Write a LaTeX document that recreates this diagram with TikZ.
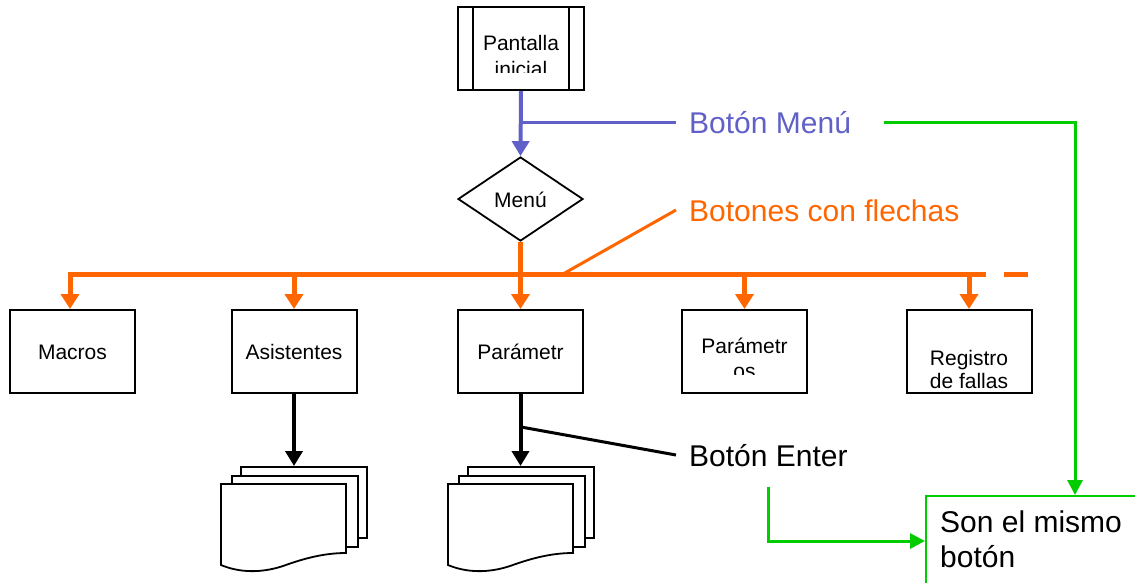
\documentclass[tikz,border=0pt]{standalone}
\usepackage{fontspec}
\setmainfont{Liberation Sans}
\usetikzlibrary{arrows.meta,shapes.geometric}
\definecolor{cblue}{RGB}{96,96,200}
\definecolor{corange}{RGB}{255,102,0}
\definecolor{cgreen}{RGB}{0,204,0}
\begin{document}
\begin{tikzpicture}[x=1pt,y=-1pt,
  box/.style={draw,line width=2pt,minimum width=125pt,minimum height=83pt,inner sep=0pt,fill=white},
  sheet/.style={draw,line width=1.8pt,minimum width=126pt,minimum height=71pt,inner sep=0pt,fill=white,anchor=north west},
  small/.style={font=\fontsize{21}{25}\selectfont,inner sep=0pt,anchor=base},
  big/.style={font=\fontsize{30}{36}\selectfont,inner sep=0pt,anchor=base west},
  oline/.style={corange,line width=5pt},
  oarr/.style={corange,line width=5pt,-{Triangle[width=18pt,length=15pt]}},
  barr/.style={cblue,line width=4pt,-{Triangle[width=17pt,length=15pt]}},
  karr/.style={black,line width=4pt,-{Triangle[width=17pt,length=15pt]}},
  garr/.style={cgreen,line width=3pt,-{Triangle[width=15pt,length=15pt]}},
]
\useasboundingbox (0,0) rectangle (1135,582);
\clip (0,0) rectangle (1135,582);

% top box
\node[box,minimum width=126pt] (pant) at (521,48.5) {};
\draw[line width=2pt] ([xshift=16pt]pant.north west) -- ([xshift=16pt]pant.south west);
\draw[line width=2pt] ([xshift=-16pt]pant.north east) -- ([xshift=-16pt]pant.south east);
\node[small] (pant1) at (521,50) {Pantalla};
\begin{scope}
  \clip (480,55) rectangle (560,72);
  \node[small] (pant2) at (521,76) {inicial};
\end{scope}

% diamond
\node[diamond,draw,line width=1.8pt,minimum width=125pt,minimum height=84pt,inner sep=0pt,fill=white] (menu) at (520.5,199) {};
\node[small] (menut) at (520.5,207) {Menú};

% boxes
\node[box] (macros) at (72.5,351.5) {};
\node[small] at (macros.center) [yshift=-7.5pt] (t1) {Macros};
\node[box] (asist) at (294,351.5) {};
\node[small] at (asist.center) [yshift=-7.5pt] (t2) {Asistentes};
\node[box] (param) at (520.5,351.5) {};
\node[small] at (param.center) [yshift=-7.5pt] (t3) {Parámetr};
\node[box] (param2) at (744.5,351.5) {};
\node[small] (t4) at (744.5,353) {Parámetr};
\begin{scope}
  \clip (700,360) rectangle (790,374);
  \node[small] (t5) at (744.5,378) {os};
\end{scope}
\node[box] (reg) at (969,351.5) {};
\node[small] (t6) at (969,365) {Registro};
\node[small] (t7) at (969,388) {de fallas};

% blue
\draw[barr] (pant.south) -- (menu.north);
\coordinate (b1) at (520.5,122);
\coordinate (b2) at (676,122);
\draw[cblue,line width=3pt] (b1) -- (b2);
\node[big,text=cblue] (bmenu) at (689,133) {Botón Menú};

% orange
\draw[oarr] (menu.south) -- (param.north);
\coordinate (bl) at (70,274);
\coordinate (br) at (986,274);
\draw[oline] ([xshift=-2.5pt]bl) -- (br);
\draw[oline] (1004,274) -- (1028,274);
\draw[oarr] (bl) -- (macros.north -| bl);
\draw[oarr] (294,274) -- (asist.north);
\draw[oarr] (744.5,274) -- (param2.north);
\draw[oarr] (969,274) -- (reg.north);
\coordinate (o1) at (563,274);
\coordinate (o2) at (676,210);
\draw[corange,line width=3pt] (o1) -- (o2);
\node[big,text=corange] (bflechas) at (689,221) {Botones con flechas};

% stacks
\node[sheet] (s1c) at (240,466) {};
\node[sheet] (s1b) at (231,475) {};
\draw[line width=1.8pt,fill=white] (221,484) -- (346,484) -- (346,553)
  .. controls (325,553) and (305,558) .. (283,566)
  .. controls (262,573) and (240,573) .. (221,565) -- cycle;
\node[sheet] (s2c) at (467,466) {};
\node[sheet] (s2b) at (458,475) {};
\draw[line width=1.8pt,fill=white] (448,484) -- (573,484) -- (573,553)
  .. controls (552,553) and (532,558) .. (510,566)
  .. controls (489,573) and (467,573) .. (448,565) -- cycle;
\draw[karr] (asist.south) -- (s1c.north -| asist.south);
\draw[karr] (param.south) -- (s2c.north -| param.south);
\coordinate (k1) at (521,427);
\coordinate (k2) at (676,455);
\draw[line width=3pt] (k1) -- (k2);
\node[big] (benter) at (689,466) {Botón Enter};

% green
\node[draw=cgreen,line width=1.5pt,minimum width=320pt,minimum height=140pt,anchor=north west,inner sep=0pt] (same) at (925,495) {};
\node[big,anchor=base west] (s1) at (940,532) {Son el mismo};
\node[big,anchor=base west] (s2) at (940,567) {botón};
\coordinate (g1) at (884,122);
\coordinate (g2) at (1075,122);
\draw[garr] (g1) -- (g2) -- (same.north -| g2);
\coordinate (g3) at (768,487);
\draw[garr] (g3) -- (768,541) -- (same.west |- 0,541);
\end{tikzpicture}
\end{document}
